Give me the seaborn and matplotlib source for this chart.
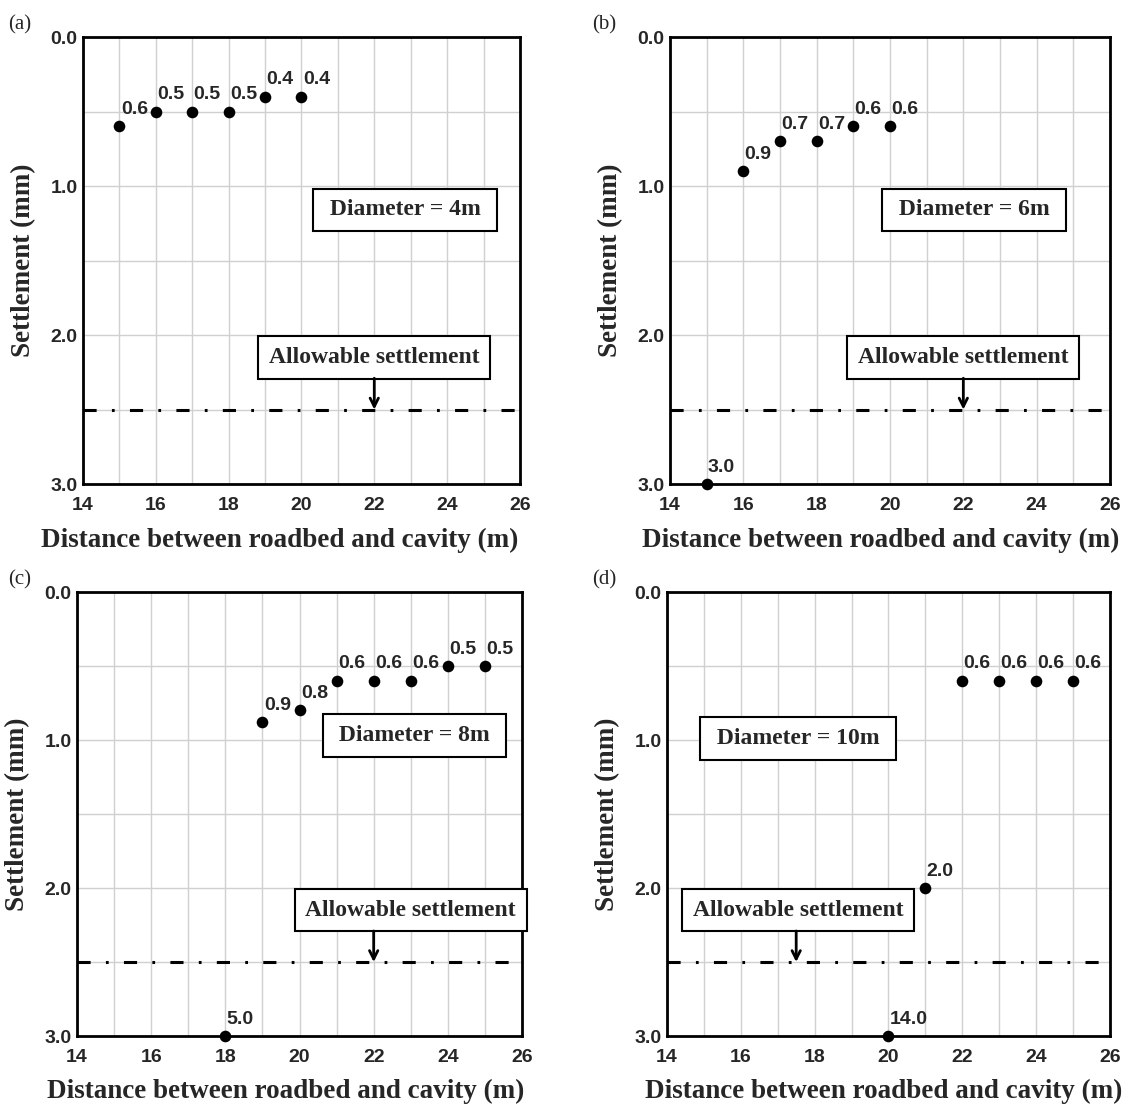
"""
Settlement vs distance between roadbed and cavity, four cavity diameters
"""

import numpy as np
import matplotlib
matplotlib.use('Agg')
import matplotlib.pyplot as plt
from matplotlib.ticker import MultipleLocator
import seaborn as sns

# Data
a_dist = [15, 16, 17, 18, 19, 20]
a_settle = [0.6, 0.5, 0.5, 0.5, 0.4, 0.4]

b_dist = [15, 16, 17, 18, 19, 20]
b_settle = [3.0, 0.9, 0.7, 0.7, 0.6, 0.6]

c_dist = [18, 19, 20, 21, 22, 23, 24, 25]
c_settle = [5.0, 0.88, 0.8, 0.6, 0.6, 0.6, 0.5, 0.5]

d_dist = [20, 21, 22, 23, 24, 25]
d_settle = [14.0, 2.0, 0.6, 0.6, 0.6, 0.6]

diameters = ['4m', '6m', '8m', '10m']
panel_tags = ['(a)', '(b)', '(c)', '(d)']
allowable = 2.5
y_max = 3.0

sns.set_style('white')
plt.rcParams['font.family'] = ['Liberation Sans', 'DejaVu Sans']

SERIF = ['Liberation Serif', 'DejaVu Serif']
SANS = ['Liberation Sans', 'DejaVu Sans']

fig = plt.figure(figsize=(11.46, 11.12), dpi=100)

# axes rectangles in figure fractions (left, bottom, width, height)
rects = [
    (0.0724, 0.5647, 0.3813, 0.4020),
    (0.5846, 0.5647, 0.3840, 0.4020),
    (0.0672, 0.0683, 0.3883, 0.3993),
    (0.5820, 0.0683, 0.3866, 0.3993),
]

# (x, y) of the "Diameter" box and the allowable box/arrow per panel
diam_pos = [(22.85, 1.16), (22.3, 1.16), (23.1, 0.97), (17.55, 0.99)]
allow_pos = [(22.0, 2.15), (22.0, 2.15), (23.0, 2.15), (17.55, 2.15)]
arrow_x = [22.0, 22.0, 22.0, 17.5]
xlabel_x = [0.45, 0.48, 0.47, 0.49]

tag_pos = [(0.007, 0.986), (0.517, 0.986), (0.007, 0.487), (0.517, 0.487)]

series = [(a_dist, a_settle), (b_dist, b_settle), (c_dist, c_settle), (d_dist, d_settle)]

for i, (xs, ys) in enumerate(series):
    ax = fig.add_axes(rects[i])
    plot_y = np.minimum(ys, y_max)

    ax.set_xlim(14, 26)
    ax.set_ylim(y_max, 0)
    ax.xaxis.set_major_locator(MultipleLocator(2))
    ax.xaxis.set_minor_locator(MultipleLocator(1))
    ax.yaxis.set_major_locator(MultipleLocator(1))
    ax.yaxis.set_minor_locator(MultipleLocator(0.5))
    ax.yaxis.set_major_formatter(plt.FormatStrFormatter('%.1f'))

    ax.grid(True, which='both', color='#d0d0d0', linewidth=1.0, zorder=0)
    ax.set_axisbelow(True)
    for sp in ax.spines.values():
        sp.set_linewidth(2.0)
        sp.set_color('black')
    ax.tick_params(which='major', direction='in', length=7, width=2.2,
                   labelsize=14, pad=4, top=False, right=False)
    ax.tick_params(axis='x', which='major', pad=9)
    ax.tick_params(which='minor', direction='in', length=5, width=2.2,
                   top=False, right=False)
    for lab in ax.get_xticklabels() + ax.get_yticklabels():
        lab.set_fontweight('bold')

    # allowable settlement line
    ax.axhline(allowable, color='black', linewidth=2.2,
               linestyle=(0, (4.3, 5.0, 0.9, 5.0)), zorder=2)

    sns.scatterplot(x=xs, y=plot_y, ax=ax, color='black', s=70,
                    edgecolor='black', linewidth=0, clip_on=False, zorder=5,
                    legend=False)
    for x, y, v in zip(xs, plot_y, ys):
        ax.annotate(f'{v:.1f}', (x, y), xytext=(1, 6), textcoords='offset points',
                    ha='left', va='bottom', fontsize=14, fontweight='bold',
                    family=SANS, annotation_clip=False)

    box = dict(boxstyle='square,pad=0.45', facecolor='white',
               edgecolor='black', linewidth=1.5)
    ax.text(diam_pos[i][0], diam_pos[i][1], f' Diameter = {diameters[i]} ',
            ha='center', va='center', fontsize=17, fontweight='bold',
            family=SERIF, bbox=box, zorder=6)
    ax.text(allow_pos[i][0], allow_pos[i][1], 'Allowable settlement',
            ha='center', va='center', fontsize=17, fontweight='bold',
            family=SERIF, bbox=box, zorder=6)
    ax.annotate('', xy=(arrow_x[i], allowable), xytext=(arrow_x[i], 2.29),
                arrowprops=dict(arrowstyle='->', color='black', lw=2.0,
                                shrinkA=0, shrinkB=0, mutation_scale=15),
                zorder=6)

    ax.set_xlabel('Distance between roadbed and cavity (m)', fontsize=19.5,
                  fontweight='bold', family=SERIF)
    ax.xaxis.set_label_coords(xlabel_x[i], -0.097)
    ax.set_ylabel('Settlement (mm)', fontsize=19.5, fontweight='bold',
                  family=SERIF, labelpad=10)

    fig.text(tag_pos[i][0], tag_pos[i][1], panel_tags[i], fontsize=15,
             family=SERIF, va='top', ha='left')

fig.savefig('out.png', dpi=100)
plt.close(fig)
